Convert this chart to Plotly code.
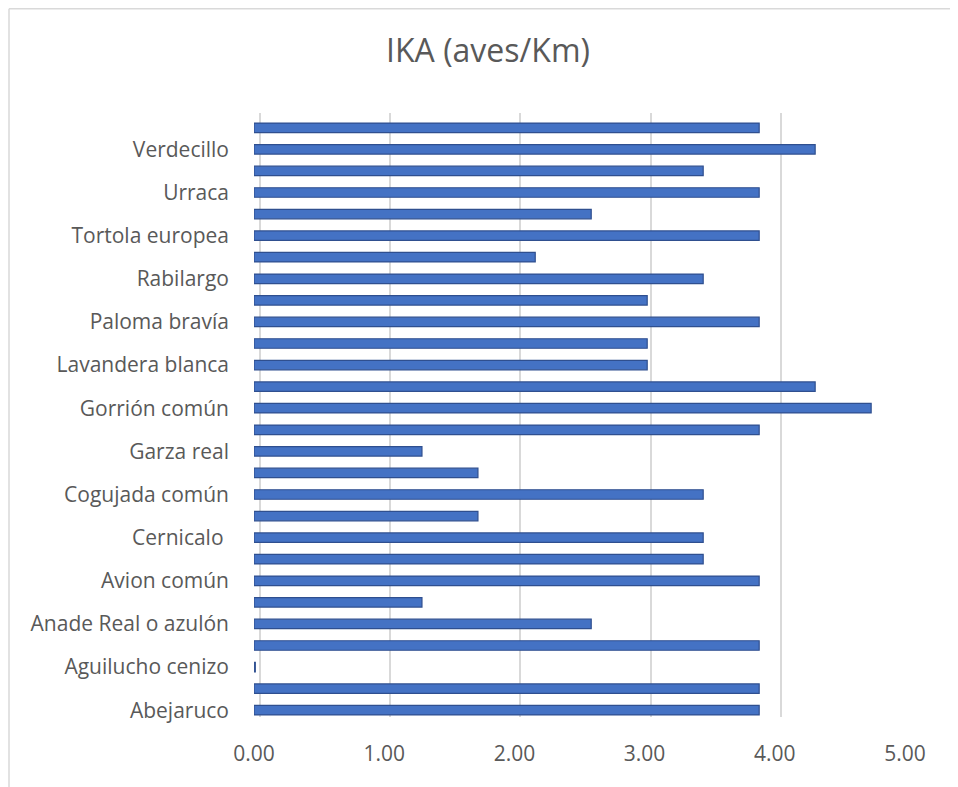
import plotly.graph_objects as go

# 28 categories, bottom to top; only every other one carries a visible label
categories = [
    "Abejaruco", "Abubilla", "Aguilucho cenizo", "Alondra común",
    "Anade Real o azulón", "Avefría", "Avion común", "Carbonero común",
    "Cernicalo ", "Cigüeña blanca", "Cogujada común", "Estornino negro",
    "Garza real", "Golondrina común", "Gorrión común", "Jilguero",
    "Lavandera blanca", "Mirlo común", "Paloma bravía", "Perdiz roja",
    "Rabilargo", "Tarabilla común", "Tortola europea", "Triguero",
    "Urraca", "Vencejo común", "Verdecillo", "Verderón común",
]
values = [
    3.88, 3.88, 0.01, 3.88,
    2.59, 1.29, 3.88, 3.45,
    3.45, 1.72, 3.45, 1.72,
    1.29, 3.88, 4.74, 4.31,
    3.02, 3.02, 3.88, 3.02,
    3.45, 2.16, 3.88, 2.59,
    3.88, 3.45, 4.31, 3.88,
]
shown_labels = [c for i, c in enumerate(categories) if i % 2 == 0]
x_ticks = [0, 1, 2, 3, 4, 5]
x_ticktext = ["0.00", "1.00", "2.00", "3.00", "4.00", "5.00"]

FONT = "Open Sans"
GREY = "#595959"

W, H = 950, 779
L, R, T, B = 246, 47, 105, 66
PW = W - L - R   # 657
PH = H - T - B   # 608
DX = 6           # 3D depth offset of the back wall (gridlines)
DY = 4

fig = go.Figure()
# back wall (gridlines) subplot
fig.add_trace(go.Scatter(x=[], y=[], xaxis="x", yaxis="y", showlegend=False))
# bars subplot (front)
fig.add_trace(go.Bar(
    y=categories, x=values, orientation="h", xaxis="x2", yaxis="y2",
    marker=dict(color="#4472C4", line=dict(color="#2F4F8F", width=1.2)),
    width=0.44,
))

fig.update_layout(
    width=W, height=H,
    paper_bgcolor="white", plot_bgcolor="rgba(0,0,0,0)",
    margin=dict(l=L, r=R, t=T, b=B),
    title=dict(text="IKA (aves/Km)", x=480 / W, xanchor="center",
               y=1 - 43 / H, yanchor="middle",
               font=dict(family=FONT, size=32, color=GREY)),
    font=dict(family=FONT, size=21, color=GREY),
    showlegend=False,
    bargap=0.5,
    xaxis=dict(domain=[DX / PW, 1], range=[0, 5], anchor="y",
               tickvals=x_ticks, showticklabels=False,
               showgrid=True, gridcolor="#D9D9D9", gridwidth=2,
               zeroline=True, zerolinecolor="#D9D9D9", zerolinewidth=2,
               showline=False, ticks=""),
    yaxis=dict(domain=[DY / PH, 1], anchor="x", range=[0, 1],
               showgrid=False, zeroline=False, showticklabels=False,
               showline=False, ticks=""),
    xaxis2=dict(domain=[0, 1 - DX / PW], range=[0, 5], anchor="y2",
                tickvals=x_ticks, ticktext=x_ticktext,
                showgrid=False, zeroline=False, showline=False, ticks="",
                ticklabelstandoff=18,
                tickfont=dict(family=FONT, size=21, color=GREY)),
    yaxis2=dict(domain=[0, 1 - DY / PH], anchor="x2",
                categoryorder="array", categoryarray=categories,
                tickvals=shown_labels, ticktext=shown_labels,
                showgrid=False, zeroline=False, showline=False, ticks="",
                ticklabelstandoff=24,
                tickfont=dict(family=FONT, size=21, color=GREY)),
)

# outer chart border (top and left edges only are inside the picture)
x_left = (1 - L) / PW
y_top = 1 + (T - 0.8) / PH
border = dict(color="#D9D9D9", width=1.5)
fig.add_shape(type="line", xref="paper", yref="paper",
              x0=x_left, x1=1 + (R + 30) / PW, y0=y_top, y1=y_top,
              line=border, layer="below")
fig.add_shape(type="line", xref="paper", yref="paper",
              x0=x_left, x1=x_left, y0=-(B + 30) / PH, y1=y_top,
              line=border, layer="below")

fig.write_html("out.html")
